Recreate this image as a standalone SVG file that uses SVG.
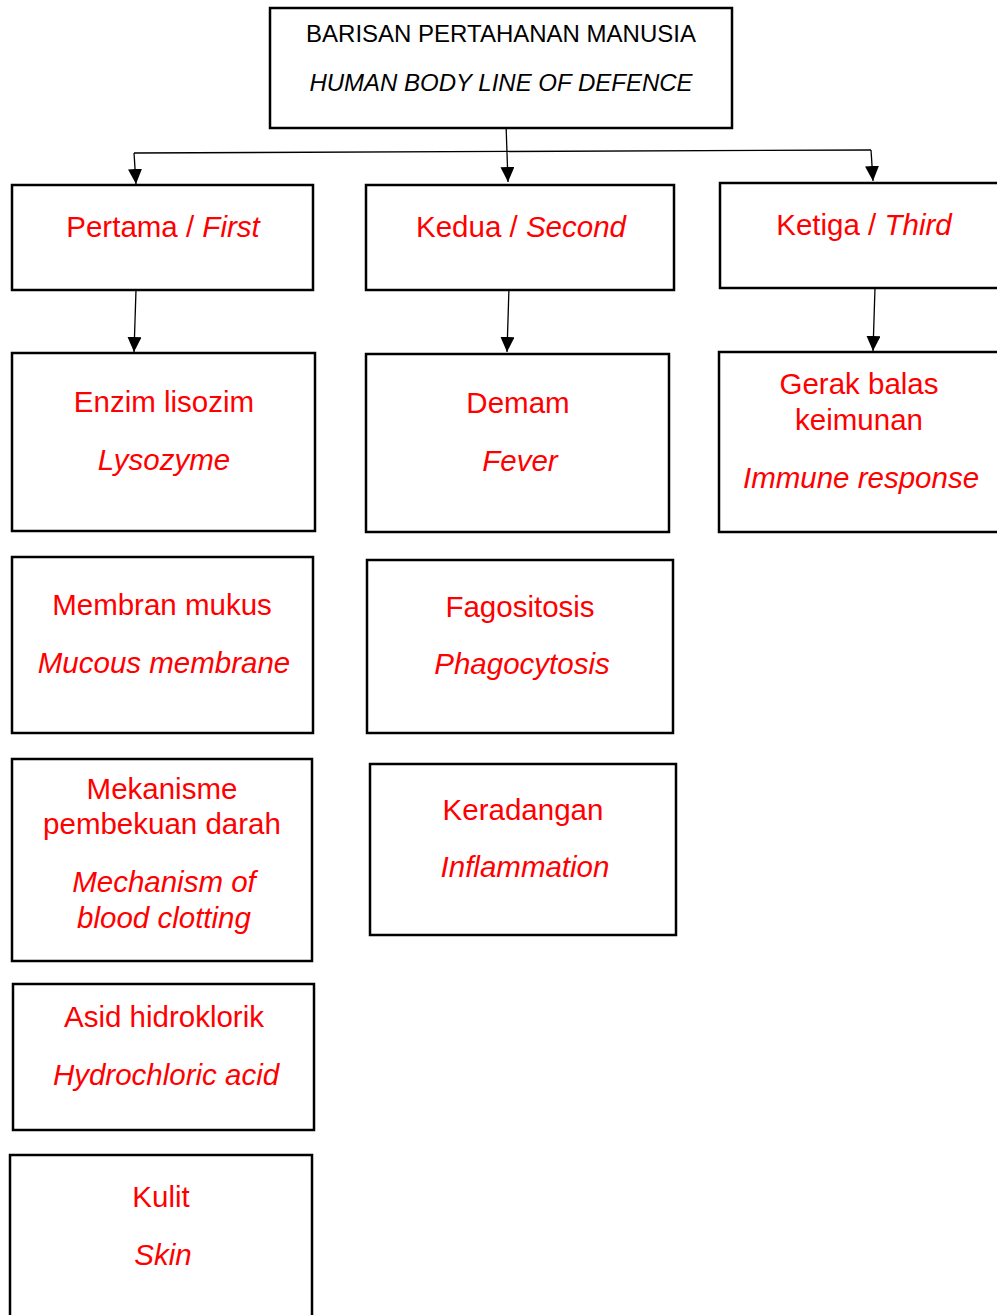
<svg xmlns="http://www.w3.org/2000/svg" width="997" height="1315" viewBox="0 0 997 1315">
  <style>
    .box { fill: #ffffff; stroke: #000000; stroke-width: 2.5; }
    .title { font-family: "Liberation Sans", Arial, sans-serif; font-size: 24px; fill: #000000; text-anchor: middle; }
    .lbl { font-family: "Liberation Sans", Arial, sans-serif; font-size: 29.5px; fill: #ff0000; text-anchor: middle; }
    .it { font-style: italic; }
    .wire { fill: none; stroke: #000000; stroke-width: 1.3; }
    .drop { fill: none; stroke: #000000; stroke-width: 1.3; marker-end: url(#arrow); }
  </style>
  <defs>
    <marker id="arrow" markerWidth="15" markerHeight="14" refX="15" refY="7" orient="auto" markerUnits="userSpaceOnUse" viewBox="0 0 15 14">
      <path d="M0,0 L15,7 L0,14 Z" fill="#000000"/>
    </marker>
  </defs>
  <rect width="997" height="1315" fill="#ffffff"/>

  <!-- connectors -->
  <g id="connectors">
    <path class="drop" d="M506,124 L508,182"/>
    <path class="wire" d="M134,153 L871,150"/>
    <path class="drop" d="M134,153 L136,184"/>
    <path class="drop" d="M871,150 L873,181"/>
    <path class="drop" d="M136,290 L134,352"/>
    <path class="drop" d="M509,287 L507,352"/>
    <path class="drop" d="M875,288 L873,351"/>
  </g>

  <g id="root">
    <rect class="box" x="270" y="8" width="462" height="120"/>
    <text class="title" x="501" y="42">BARISAN PERTAHANAN MANUSIA</text>
    <text class="title it" x="501" y="91">HUMAN BODY LINE OF DEFENCE</text>
  </g>

  <g id="first">
    <rect class="box" x="12" y="185" width="301" height="105"/>
    <text class="lbl" x="163" y="237">Pertama / <tspan class="it">First</tspan></text>
  </g>
  <g id="second">
    <rect class="box" x="366" y="185" width="308" height="105"/>
    <text class="lbl" x="521" y="237">Kedua / <tspan class="it">Second</tspan></text>
  </g>
  <g id="third">
    <rect class="box" x="720" y="183" width="290" height="105"/>
    <text class="lbl" x="864" y="235">Ketiga / <tspan class="it">Third</tspan></text>
  </g>

  <g id="lysozyme">
    <rect class="box" x="12" y="353" width="303" height="178"/>
    <text class="lbl" x="164" y="412">Enzim lisozim</text>
    <text class="lbl it" x="164" y="470">Lysozyme</text>
  </g>
  <g id="mucous">
    <rect class="box" x="12" y="557" width="301" height="176"/>
    <text class="lbl" x="162" y="615">Membran mukus</text>
    <text class="lbl it" x="164" y="673">Mucous membrane</text>
  </g>
  <g id="clotting">
    <rect class="box" x="12" y="759" width="300" height="202"/>
    <text class="lbl" x="162" y="799">Mekanisme</text>
    <text class="lbl" x="162" y="834">pembekuan darah</text>
    <text class="lbl it" x="164" y="892">Mechanism of</text>
    <text class="lbl it" x="164" y="928">blood clotting</text>
  </g>
  <g id="acid">
    <rect class="box" x="13" y="984" width="301" height="146"/>
    <text class="lbl" x="164" y="1027">Asid hidroklorik</text>
    <text class="lbl it" x="166" y="1085">Hydrochloric acid</text>
  </g>
  <g id="skin">
    <rect class="box" x="10" y="1155" width="302" height="180"/>
    <text class="lbl" x="161" y="1207">Kulit</text>
    <text class="lbl it" x="163" y="1265">Skin</text>
  </g>

  <g id="fever">
    <rect class="box" x="366" y="354" width="303" height="178"/>
    <text class="lbl" x="518" y="413">Demam</text>
    <text class="lbl it" x="520" y="471">Fever</text>
  </g>
  <g id="phagocytosis">
    <rect class="box" x="367" y="560" width="306" height="173"/>
    <text class="lbl" x="520" y="617">Fagositosis</text>
    <text class="lbl it" x="522" y="674">Phagocytosis</text>
  </g>
  <g id="inflammation">
    <rect class="box" x="370" y="764" width="306" height="171"/>
    <text class="lbl" x="523" y="820">Keradangan</text>
    <text class="lbl it" x="525" y="877">Inflammation</text>
  </g>

  <g id="immune">
    <rect class="box" x="719" y="352" width="291" height="180"/>
    <text class="lbl" x="859" y="394">Gerak balas</text>
    <text class="lbl" x="859" y="430">keimunan</text>
    <text class="lbl it" x="861" y="488">Immune response</text>
  </g>
</svg>
